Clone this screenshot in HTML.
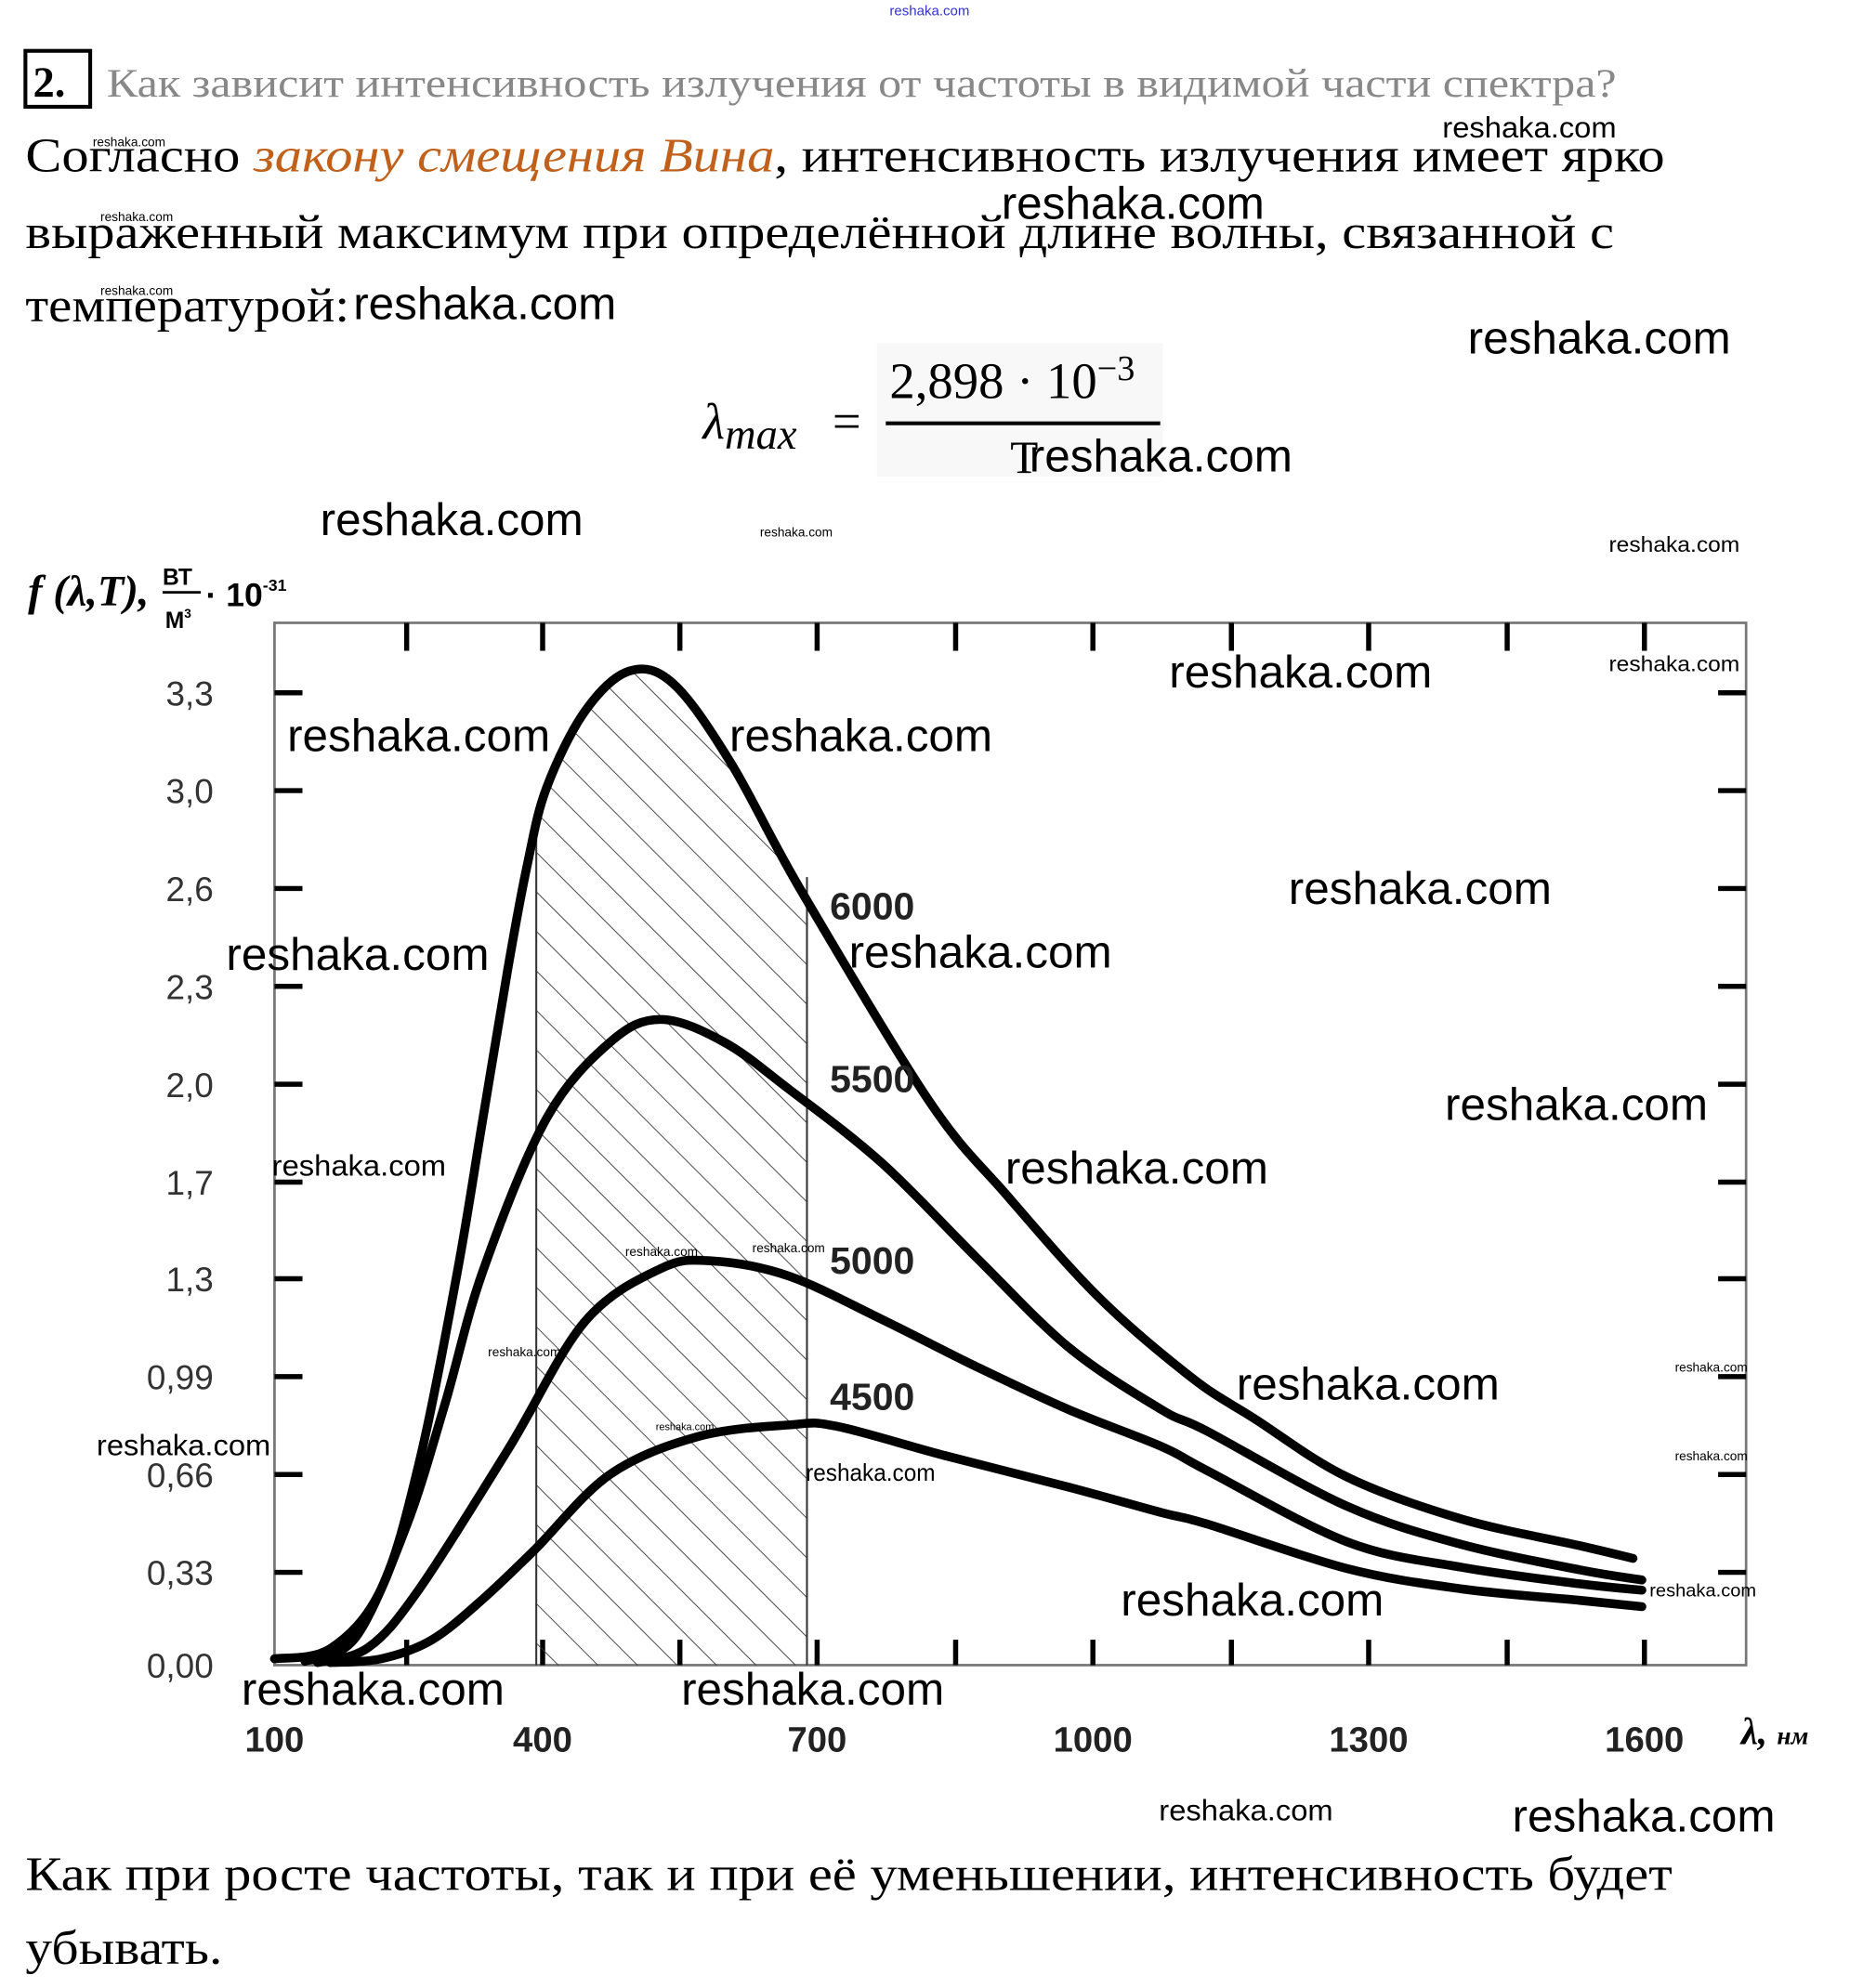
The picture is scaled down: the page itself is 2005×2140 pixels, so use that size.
<!DOCTYPE html>
<html><head><meta charset="utf-8"><style>
html,body{margin:0;padding:0;background:#fff;}
svg{display:block;}
.s{font-family:"Liberation Serif","DejaVu Serif",serif;}
.w{font-family:"Liberation Sans","DejaVu Sans",sans-serif;fill:#000;}
.a{font-family:"Liberation Sans","DejaVu Sans",sans-serif;fill:#333;font-size:27px;}
</style></head><body>
<svg id="sv" width="2005" height="2140" viewBox="0 0 1466 1564" preserveAspectRatio="none" xmlns="http://www.w3.org/2000/svg">
<defs>
<pattern id="h" width="22" height="22" patternUnits="userSpaceOnUse" patternTransform="rotate(-45)">
<line x1="0" y1="0" x2="0" y2="22" stroke="#333" stroke-width="1.3"/>
</pattern>
<clipPath id="cr"><rect x="422" y="400" width="213" height="910"/></clipPath>
</defs>
<text x="700" y="12" font-size="11" class="w" style="fill:#33c">reshaka.com</text>
<rect x="20" y="40" width="51" height="44" fill="none" stroke="#000" stroke-width="3"/>
<text x="26" y="76" font-size="34" font-weight="bold" class="s">2.</text>
<text x="84" y="76" font-size="32" fill="#888" class="s" textLength="1188" lengthAdjust="spacingAndGlyphs">Как зависит интенсивность излучения от частоты в видимой части спектра?</text>
<text x="20" y="135" font-size="38" class="s" textLength="1290" lengthAdjust="spacingAndGlyphs">Согласно <tspan fill="#c0601a" font-style="italic">закону смещения Вина</tspan>, интенсивность излучения имеет ярко</text>
<text x="20" y="195" font-size="38" class="s" textLength="1250" lengthAdjust="spacingAndGlyphs">выраженный максимум при определённой длине волны, связанной с</text>
<text x="20" y="253" font-size="38" class="s" textLength="255" lengthAdjust="spacingAndGlyphs">температурой:</text>
<text x="553" y="345" font-size="40" font-style="italic" class="s">λ<tspan font-size="34" dy="8">max</tspan></text>
<text x="655" y="345" font-size="40" class="s">=</text>
<rect x="690" y="270" width="225" height="105" fill="#f8f8f8"/>
<text x="700" y="313" font-size="40" class="s">2,898 · 10<tspan font-size="28" dy="-14">−3</tspan></text>
<line x1="697" y1="333" x2="913" y2="333" stroke="#000" stroke-width="3"/>
<text x="795" y="372" font-size="36" class="s">T</text>
<!-- chart -->
<rect x="216" y="490" width="1158" height="820" fill="none" stroke="#777" stroke-width="2"/>
<g stroke="#000" stroke-width="4">
<line x1="320" y1="490" x2="320" y2="512"/><line x1="427" y1="490" x2="427" y2="512"/><line x1="535" y1="490" x2="535" y2="512"/><line x1="643" y1="490" x2="643" y2="512"/><line x1="752" y1="490" x2="752" y2="512"/><line x1="860" y1="490" x2="860" y2="512"/><line x1="969" y1="490" x2="969" y2="512"/><line x1="1077" y1="490" x2="1077" y2="512"/><line x1="1186" y1="490" x2="1186" y2="512"/><line x1="1294" y1="490" x2="1294" y2="512"/>
<line x1="320" y1="1290" x2="320" y2="1310"/><line x1="427" y1="1290" x2="427" y2="1310"/><line x1="535" y1="1290" x2="535" y2="1310"/><line x1="643" y1="1290" x2="643" y2="1310"/><line x1="752" y1="1290" x2="752" y2="1310"/><line x1="860" y1="1290" x2="860" y2="1310"/><line x1="969" y1="1290" x2="969" y2="1310"/><line x1="1077" y1="1290" x2="1077" y2="1310"/><line x1="1186" y1="1290" x2="1186" y2="1310"/><line x1="1294" y1="1290" x2="1294" y2="1310"/>
<line x1="216" y1="545" x2="238" y2="545"/><line x1="216" y1="622" x2="238" y2="622"/><line x1="216" y1="699" x2="238" y2="699"/><line x1="216" y1="776" x2="238" y2="776"/><line x1="216" y1="853" x2="238" y2="853"/><line x1="216" y1="930" x2="238" y2="930"/><line x1="216" y1="1006" x2="238" y2="1006"/><line x1="216" y1="1083" x2="238" y2="1083"/><line x1="216" y1="1160" x2="238" y2="1160"/><line x1="216" y1="1237" x2="238" y2="1237"/>
<line x1="1352" y1="545" x2="1374" y2="545"/><line x1="1352" y1="622" x2="1374" y2="622"/><line x1="1352" y1="699" x2="1374" y2="699"/><line x1="1352" y1="776" x2="1374" y2="776"/><line x1="1352" y1="853" x2="1374" y2="853"/><line x1="1352" y1="930" x2="1374" y2="930"/><line x1="1352" y1="1006" x2="1374" y2="1006"/><line x1="1352" y1="1083" x2="1374" y2="1083"/><line x1="1352" y1="1160" x2="1374" y2="1160"/><line x1="1352" y1="1237" x2="1374" y2="1237"/>
</g>
<g clip-path="url(#cr)">
<path id="hatch" d="M216,1305 L300,1250 L360,1000 L400,760 L430,620 L495,528 L575,600 L630,700 L640,710 L640,1310 L216,1310 Z" fill="url(#h)"/>
</g>
<line x1="422" y1="640" x2="422" y2="1310" stroke="#333" stroke-width="1.5"/>
<line x1="635" y1="690" x2="635" y2="1310" stroke="#333" stroke-width="1.5"/>
<g fill="none" stroke="#000" stroke-width="7" stroke-linecap="round" stroke-linejoin="round">
<path id="c1" d="M216,1305 L300,1250 L360,1000 L400,760 L430,620 L495,528 L575,600 L630,700 L731,866 L792,940 L865,1021 L938,1084 L987,1116 L1060,1162 L1150,1195 L1243,1216 L1285,1226"/>
<path id="c2" d="M240,1307 L320,1200 L380,1000 L430,880 L480,820 L520,802 L570,820 L621,857 L694,915 L768,989 L841,1060 L914,1109 L950,1126 L1060,1185 L1150,1215 L1243,1235 L1292,1243"/>
<path id="c3" d="M250,1308 L330,1250 L400,1140 L460,1040 L520,998 L560,992 L621,1004 L694,1038 L768,1075 L841,1109 L914,1138 L950,1157 L1060,1213 L1150,1233 L1243,1246 L1292,1251"/>
<path id="c4" d="M260,1308 L340,1290 L420,1220 L480,1160 L550,1130 L621,1121 L658,1122 L743,1145 L841,1170 L914,1190 L950,1199 L1060,1234 L1150,1250 L1243,1259 L1292,1264"/>
</g>
<g class="w" font-weight="bold" font-size="30" style="fill:#222">
<text x="653" y="723">6000</text><text x="653" y="859">5500</text><text x="653" y="1002">5000</text><text x="653" y="1109">4500</text>
</g>
<g class="a" text-anchor="end">
<text x="168" y="555">3,3</text><text x="168" y="632">3,0</text><text x="168" y="709">2,6</text><text x="168" y="786">2,3</text><text x="168" y="863">2,0</text><text x="168" y="940">1,7</text><text x="168" y="1016">1,3</text><text x="168" y="1093">0,99</text><text x="168" y="1170">0,66</text><text x="168" y="1247">0,33</text><text x="168" y="1320">0,00</text>
</g>
<g class="w" font-weight="bold" font-size="28" text-anchor="middle" style="fill:#222">
<text x="216" y="1378">100</text><text x="427" y="1378">400</text><text x="643" y="1378">700</text><text x="860" y="1378">1000</text><text x="1077" y="1378">1300</text><text x="1294" y="1378">1600</text>
</g>
<text x="1370" y="1372" font-size="30" font-style="italic" font-weight="bold" class="s">λ, <tspan font-size="20">нм</tspan></text>
<text x="22" y="476" font-size="34" font-style="italic" font-weight="bold" class="s">f (λ,T),</text>
<text x="128" y="460" font-size="18" font-weight="bold" class="w">ВТ</text>
<line x1="128" y1="466" x2="158" y2="466" stroke="#000" stroke-width="2"/>
<text x="130" y="494" font-size="18" font-weight="bold" class="w">М<tspan font-size="10" dy="-8">3</tspan></text>
<text x="162" y="477" font-size="26" font-weight="bold" class="w">· 10<tspan font-size="13" dy="-12">-31</tspan></text>
<!-- watermarks -->
<g class="w" font-size="36">
<text x="1135" y="108" font-size="23" textLength="137" lengthAdjust="spacingAndGlyphs">reshaka.com</text>
<text x="788" y="172" textLength="207" lengthAdjust="spacingAndGlyphs">reshaka.com</text>
<text x="278" y="251" textLength="207" lengthAdjust="spacingAndGlyphs">reshaka.com</text>
<text x="1155" y="278" textLength="207" lengthAdjust="spacingAndGlyphs">reshaka.com</text>
<text x="810" y="371" textLength="207" lengthAdjust="spacingAndGlyphs">reshaka.com</text>
<text x="252" y="421" textLength="207" lengthAdjust="spacingAndGlyphs">reshaka.com</text>
<text x="920" y="541" textLength="207" lengthAdjust="spacingAndGlyphs">reshaka.com</text>
<text x="226" y="591" textLength="207" lengthAdjust="spacingAndGlyphs">reshaka.com</text>
<text x="574" y="591" textLength="207" lengthAdjust="spacingAndGlyphs">reshaka.com</text>
<text x="1014" y="711" textLength="207" lengthAdjust="spacingAndGlyphs">reshaka.com</text>
<text x="178" y="763" textLength="207" lengthAdjust="spacingAndGlyphs">reshaka.com</text>
<text x="668" y="761" textLength="207" lengthAdjust="spacingAndGlyphs">reshaka.com</text>
<text x="1137" y="881" textLength="207" lengthAdjust="spacingAndGlyphs">reshaka.com</text>
<text x="791" y="931" textLength="207" lengthAdjust="spacingAndGlyphs">reshaka.com</text>
<text x="973" y="1101" textLength="207" lengthAdjust="spacingAndGlyphs">reshaka.com</text>
<text x="882" y="1271" textLength="207" lengthAdjust="spacingAndGlyphs">reshaka.com</text>
<text x="190" y="1341" textLength="207" lengthAdjust="spacingAndGlyphs">reshaka.com</text>
<text x="536" y="1341" textLength="207" lengthAdjust="spacingAndGlyphs">reshaka.com</text>
<text x="1190" y="1441" textLength="207" lengthAdjust="spacingAndGlyphs">reshaka.com</text>
</g>
<g class="w" font-size="23">
<text x="214" y="925" textLength="137" lengthAdjust="spacingAndGlyphs">reshaka.com</text>
<text x="76" y="1145" textLength="137" lengthAdjust="spacingAndGlyphs">reshaka.com</text>
<text x="634" y="1165" textLength="102" lengthAdjust="spacingAndGlyphs" font-size="19">reshaka.com</text>
<text x="912" y="1432" textLength="137" lengthAdjust="spacingAndGlyphs">reshaka.com</text>
</g>
<g class="w" font-size="17">
<text x="1266" y="434" textLength="103" lengthAdjust="spacingAndGlyphs">reshaka.com</text>
<text x="1266" y="528" textLength="103" lengthAdjust="spacingAndGlyphs">reshaka.com</text>
<text x="1298" y="1256" font-size="14" textLength="84" lengthAdjust="spacingAndGlyphs">reshaka.com</text>
</g>
<g class="w" font-size="10">
<text x="73" y="115">reshaka.com</text><text x="79" y="174">reshaka.com</text><text x="79" y="232">reshaka.com</text>
<text x="598" y="422">reshaka.com</text><text x="492" y="988">reshaka.com</text><text x="592" y="985">reshaka.com</text>
<text x="384" y="1067">reshaka.com</text><text x="516" y="1125" font-size="8">reshaka.com</text>
<text x="1318" y="1079">reshaka.com</text><text x="1318" y="1149">reshaka.com</text>
</g>
<text x="20" y="1487" font-size="38" class="s" textLength="1296" lengthAdjust="spacingAndGlyphs">Как при росте частоты, так и при её уменьшении, интенсивность будет</text>
<text x="20" y="1545" font-size="38" class="s" textLength="155" lengthAdjust="spacingAndGlyphs">убывать.</text>
</svg>
<script>
(function(){
var P={
c1:[[216,1305],[260,1297],[300,1250],[330,1150],[360,1000],[380,880],[400,760],[415,680],[430,620],[460,560],[495,528],[530,538],[575,600],[630,700],[731,866],[792,940],[865,1021],[938,1084],[987,1116],[1060,1162],[1150,1195],[1243,1216],[1285,1226]],
c2:[[240,1307],[280,1288],[320,1200],[350,1105],[380,1000],[430,880],[480,820],[520,802],[570,820],[621,857],[694,915],[768,989],[841,1060],[914,1109],[950,1126],[1060,1185],[1150,1215],[1243,1235],[1292,1243]],
c3:[[250,1308],[290,1296],[330,1250],[400,1140],[460,1040],[520,998],[560,992],[621,1004],[694,1038],[768,1075],[841,1109],[914,1138],[950,1157],[1060,1213],[1150,1233],[1243,1246],[1292,1251]],
c4:[[260,1308],[300,1305],[340,1290],[380,1258],[420,1220],[480,1160],[550,1130],[621,1121],[658,1122],[743,1145],[841,1170],[914,1190],[950,1199],[1060,1234],[1150,1250],[1243,1259],[1292,1264]]};
function cr(p){var d="M"+p[0][0]+","+p[0][1];for(var i=0;i!==p.length-1;i++){var a=p[i-1]||p[i],b=p[i],c=p[i+1],e=p[i+2]||c;d+=" C"+(b[0]+(c[0]-a[0])/6).toFixed(1)+","+(b[1]+(c[1]-a[1])/6).toFixed(1)+" "+(c[0]-(e[0]-b[0])/6).toFixed(1)+","+(c[1]-(e[1]-b[1])/6).toFixed(1)+" "+c[0]+","+c[1];}return d;}
for(var k in P){document.getElementById(k).setAttribute("d",cr(P[k]));}
var hp=P.c1.slice(0,15);
document.getElementById("hatch").setAttribute("d",cr(hp)+" L731,1310 L216,1310 Z");
})();
</script>
</body></html>
